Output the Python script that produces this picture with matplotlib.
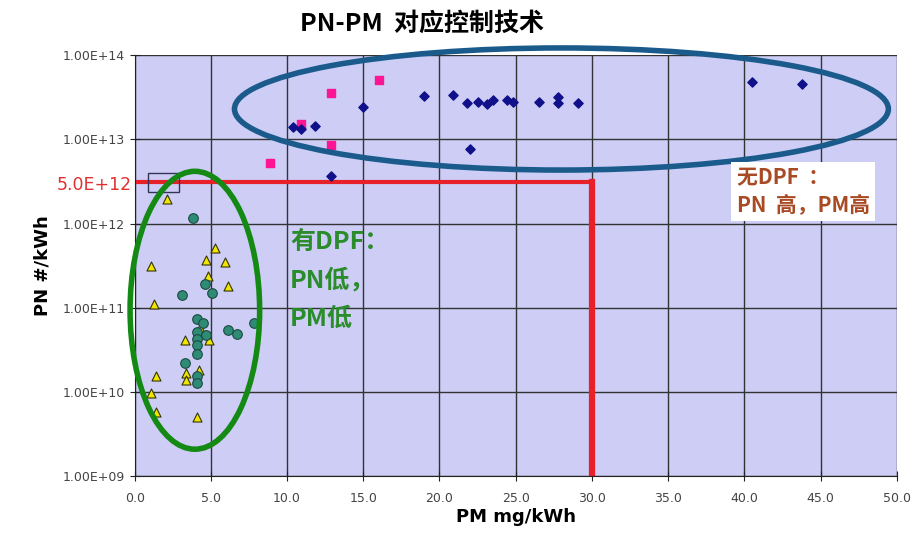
import matplotlib
matplotlib.use('Agg')
import matplotlib.pyplot as plt
from matplotlib.patches import Ellipse, Rectangle
from matplotlib.ticker import FixedLocator, FixedFormatter

CJK = ['Noto Sans CJK SC', 'DejaVu Sans']

# no DPF (blue diamonds)
nodpf_pm = [10.4, 10.9, 11.8, 15.0, 19.0, 20.9, 21.8, 22.5, 23.1, 23.5, 24.4, 24.8,
            26.5, 27.8, 27.8, 29.1, 40.5, 43.8, 22.0, 12.9]
nodpf_pn = [1.4e13, 1.34e13, 1.45e13, 2.4e13, 3.3e13, 3.4e13, 2.7e13, 2.8e13, 2.6e13,
            2.9e13, 2.9e13, 2.8e13, 2.8e13, 3.2e13, 2.7e13, 2.7e13, 4.8e13, 4.6e13,
            7.6e12, 3.7e12]

# no DPF, second series (magenta squares)
sq_pm = [16.0, 12.9, 10.9, 12.9, 8.9]
sq_pn = [5.1e13, 3.5e13, 1.5e13, 8.5e12, 5.2e12]

# DPF (yellow triangles)
tri_pm = [2.1, 5.3, 1.1, 4.7, 5.9, 4.8, 6.1, 1.3, 4.3, 3.3, 4.9, 1.4, 3.4, 3.4, 4.2,
          1.1, 1.4, 4.1]
tri_pn = [1.95e12, 5.1e11, 3.1e11, 3.7e11, 3.5e11, 2.4e11, 1.8e11, 1.1e11, 5.7e10,
          4.1e10, 4.1e10, 1.55e10, 1.7e10, 1.4e10, 1.8e10, 9.8e9, 5.8e9, 5.1e9]

# DPF (teal circles)
cir_pm = [3.8, 4.6, 5.1, 3.1, 4.1, 4.5, 6.1, 6.7, 7.8, 4.1, 4.7, 4.1, 4.1, 4.1, 3.3,
          4.1, 4.1]
cir_pn = [1.17e12, 1.9e11, 1.5e11, 1.4e11, 7.4e10, 6.6e10, 5.5e10, 4.9e10, 6.6e10,
          5.1e10, 4.8e10, 4.3e10, 3.6e10, 2.8e10, 2.2e10, 1.55e10, 1.26e10]

x_ticks = [0, 5, 10, 15, 20, 25, 30, 35, 40, 45, 50]
y_ticks = [1e9, 1e10, 1e11, 1e12, 1e13, 1e14]
y_labels = ['1.00E+09', '1.00E+10', '1.00E+11', '1.00E+12', '1.00E+13', '1.00E+14']

limit_pm = 30.0
limit_pn = 3.1e12

fig = plt.figure(figsize=(9.16, 5.35), dpi=100)
ax = fig.add_axes([0.147, 0.110, 0.832, 0.787])
ax.set_facecolor('#cdcdf6')
ax.set_yscale('log')
ax.set_xlim(0, 50)
ax.set_ylim(1e9, 1e14)

ax.xaxis.set_major_locator(FixedLocator(x_ticks))
ax.xaxis.set_major_formatter(FixedFormatter(['%.1f' % v for v in x_ticks]))
ax.yaxis.set_major_locator(FixedLocator(y_ticks))
ax.yaxis.set_major_formatter(FixedFormatter(y_labels))
ax.yaxis.set_minor_locator(FixedLocator([]))
ax.grid(True, color='#333333', linewidth=1.0)
ax.set_axisbelow(True)
ax.tick_params(direction='inout', length=7, colors='#222222', labelsize=9,
               labelcolor='#444444')
ax.tick_params(axis='x', pad=8)
for s in ['top', 'right']:
    ax.spines[s].set_visible(False)
for s in ['left', 'bottom']:
    ax.spines[s].set_color('#222222')

ax.set_xlabel('PM mg/kWh', fontsize=13, fontweight='bold', labelpad=2)
ax.set_ylabel('PN #/kWh', fontsize=13, fontweight='bold', labelpad=8)

# red limit lines
ax.plot([0, limit_pm], [limit_pn, limit_pn], color='#e8202a', lw=3, zorder=2)
ax.plot([limit_pm, limit_pm], [1e9, limit_pn], color='#e8202a', lw=4.5, zorder=2)
ax.text(-0.2, limit_pn * 0.93, '5.0E+12', color='#e03030', fontsize=12.5,
        ha='right', va='center')

# small box near the threshold
ax.add_patch(Rectangle((0.85, 2.4e12), 2.05, 1.6e12, fill=False,
                       edgecolor='#333355', lw=1.0, zorder=3))

ax.scatter(tri_pm, tri_pn, marker='^', s=42, c='#f2e600', edgecolors='#333300',
           linewidths=0.8, zorder=4)
ax.scatter(cir_pm, cir_pn, marker='o', s=48, c='#2e8b76', edgecolors='#1d4a40',
           linewidths=0.8, zorder=4)
ax.scatter(sq_pm, sq_pn, marker='s', s=38, c='#ff1493', zorder=4)
ax.scatter(nodpf_pm, nodpf_pn, marker='D', s=22, c='#10108a', zorder=5)

# ellipses
ax.add_patch(Ellipse((0.079, 0.394), 0.170, 0.66, transform=ax.transAxes,
                     fill=False, edgecolor='#148a14', lw=4, zorder=6, clip_on=False))
ax.add_patch(Ellipse((0.560, 0.872), 0.858, 0.29, transform=ax.transAxes,
                     fill=False, edgecolor='#1b5b8c', lw=4, zorder=6, clip_on=False))

# annotations
ax.text(0.204, 0.585, '有DPF：\nPN低，\nPM低', transform=ax.transAxes,
        family=CJK, fontsize=18, fontweight='bold', color='#2a8c2a',
        va='top', ha='left', linespacing=1.72, zorder=7)
ax.text(0.79, 0.733, '无DPF  ：\nPN  高，PM高', transform=ax.transAxes,
        family=CJK, fontsize=15, fontweight='bold', color='#a84a24',
        va='top', ha='left', linespacing=1.35, zorder=7,
        bbox=dict(facecolor='white', edgecolor='none', pad=4))

fig.text(0.461, 0.955, 'PN-PM  对应控制技术', family=CJK, fontsize=18,
         fontweight='bold', ha='center', va='center')

fig.savefig('out.png', dpi=100)
